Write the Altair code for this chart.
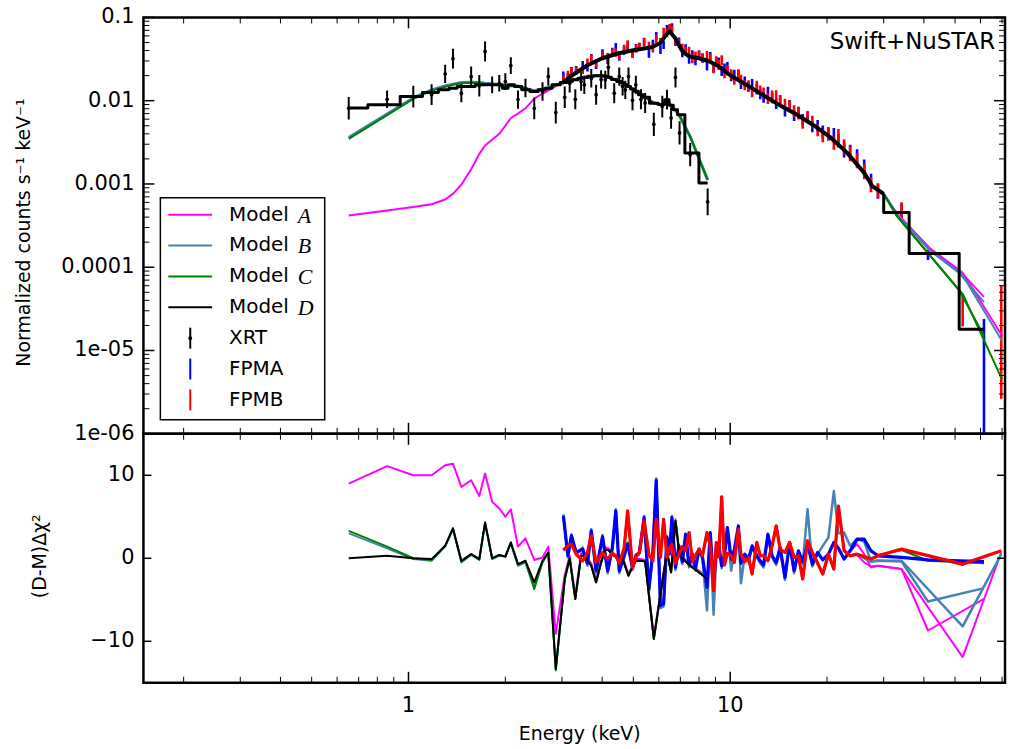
import altair as alt
import pandas as pd

# ===================== DATA =====================
# ---- Swift/XRT spectrum ----
XRT_E = [0.652, 0.858, 1.035, 1.18, 1.30, 1.375, 1.46, 1.566, 1.66, 1.73,
         1.82, 1.915, 2.00, 2.08, 2.19, 2.31, 2.46, 2.61, 2.72, 2.87,
         3.06, 3.17, 3.30, 3.44, 3.52, 3.70, 3.83, 3.97, 4.09, 4.18,
         4.36, 4.52, 4.63, 4.72, 4.83, 4.97, 5.09, 5.28, 5.44, 5.79,
         6.15, 6.36, 6.55, 6.76, 6.96, 7.51, 8.51]
XRT_V = [0.0081, 0.0104, 0.0112, 0.0118, 0.0210, 0.0320, 0.0123, 0.0195, 0.0151, 0.0390,
         0.0155, 0.0162, 0.0170, 0.0264, 0.0103, 0.0142, 0.0081, 0.0129, 0.0195, 0.0072,
         0.0110, 0.0162, 0.0104, 0.0170, 0.0155, 0.0186, 0.0118, 0.0180, 0.0178, 0.0252,
         0.0123, 0.0195, 0.0149, 0.0135, 0.0195, 0.0101, 0.0155, 0.0104, 0.0094, 0.0052,
         0.0085, 0.0103, 0.0062, 0.0190, 0.0041, 0.00225, 0.00061]
XRT_ERR = [0.135, 0.105, 0.13, 0.125, 0.11, 0.12, 0.11, 0.12, 0.13, 0.12,
           0.10, 0.10, 0.10, 0.10, 0.11, 0.11, 0.13, 0.11, 0.11, 0.13,
           0.13, 0.11, 0.12, 0.11, 0.11, 0.11, 0.12, 0.11, 0.11, 0.11,
           0.12, 0.11, 0.11, 0.11, 0.11, 0.12, 0.11, 0.12, 0.12, 0.14,
           0.13, 0.12, 0.13, 0.12, 0.14, 0.14, 0.16]
XRT_MD = [0.00815, 0.00893, 0.01125, 0.01256, 0.01349, 0.01415, 0.01483, 0.01483, 0.01549, 0.01549,
          0.01549, 0.01549, 0.01415, 0.01549, 0.01483, 0.01350, 0.01290, 0.01350, 0.01415, 0.01549,
          0.01650, 0.01700, 0.01780, 0.01860, 0.01900, 0.01960, 0.01990, 0.01990, 0.01960, 0.01910,
          0.01800, 0.01700, 0.01630, 0.01560, 0.01480, 0.01380, 0.01300, 0.01180, 0.01100, 0.00930,
          0.00900, 0.01030, 0.00880, 0.00780, 0.00680, 0.00236, 0.00103]
XRT_MODEL_HI = [0.0166, 0.0172, 0.0180, 0.0187, 0.0191, 0.0197, 0.0200, 0.0199, 0.0196, 0.0192,
                0.0181, 0.0171, 0.0163, 0.0157, 0.0149, 0.0139, 0.0131, 0.0119, 0.0110, 0.0094,
                0.0089, 0.0101, 0.0087, 0.0077, 0.0066, 0.0037, 0.00112]
XRT_MA_LO = [0.000417, 0.00048, 0.00053, 0.00057, 0.00065, 0.00076, 0.00098, 0.0015, 0.0023, 0.0029,
             0.0034, 0.0040, 0.0050, 0.0062, 0.0070, 0.0081, 0.0106, 0.0122, 0.0132, 0.0150]
XRT_MB_LO = [0.0036, 0.0069, 0.0108, 0.0135, 0.0150, 0.0158, 0.0165, 0.0167, 0.0165, 0.0162,
             0.0160, 0.0156, 0.0150, 0.0153, 0.0150, 0.0140, 0.0132, 0.0138, 0.0143, 0.0155]
XRT_MC_LO = [0.00348, 0.0067, 0.0105, 0.0132, 0.0147, 0.0155, 0.0162, 0.0164, 0.0162, 0.0159,
             0.0157, 0.0153, 0.0147, 0.0150, 0.0147, 0.0137, 0.0130, 0.0136, 0.0141, 0.0153]

# ---- NuSTAR spectra ----
NU_E = [3.03, 3.13, 3.21, 3.32, 3.48, 3.60, 3.70, 3.83, 4.01, 4.16,
        4.30, 4.41, 4.52, 4.68, 4.80, 4.97, 5.10, 5.22, 5.40, 5.59,
        5.75, 5.89, 6.07, 6.21, 6.36, 6.48, 6.59, 6.76, 6.93, 7.10,
        7.27, 7.45, 7.63, 7.80, 8.00, 8.20, 8.47, 8.67, 8.88, 9.05,
        9.21, 9.41, 9.60, 9.80, 10.07, 10.3, 10.6, 10.8, 11.1, 11.4,
        11.7, 12.1, 12.4, 12.7, 13.1, 13.5, 13.9, 14.3, 14.8, 15.3,
        15.8, 16.3, 16.8, 17.4, 18.0, 18.7, 19.4, 20.2, 21.0, 21.7,
        22.6, 23.6, 24.8, 26.1, 27.4, 28.8]
FPMA_E_HI = [34.1, 41.2, 61.5]
FPMB_E_HI = [34.1, 52.8, 69.6]

FPMA_V = [0.0200, 0.0192, 0.0227, 0.0232, 0.0267, 0.0251, 0.0325, 0.0270, 0.0369, 0.0309,
          0.0385, 0.0439, 0.0338, 0.0398, 0.0434, 0.0368, 0.0428, 0.0443, 0.0508, 0.0369,
          0.0481, 0.0595, 0.0409, 0.0467, 0.0724, 0.0725, 0.0756, 0.0510, 0.0512, 0.0373,
          0.0420, 0.0316, 0.0355, 0.0303, 0.0352, 0.0325, 0.0261, 0.0338, 0.0246, 0.0288,
          0.0287, 0.0227, 0.0243, 0.0254, 0.0196, 0.0205, 0.0207, 0.0159, 0.0170, 0.0147,
          0.0157, 0.0138, 0.0121, 0.0110, 0.0127, 0.0108, 0.0092, 0.0101, 0.0075, 0.0088,
          0.0067, 0.0072, 0.0059, 0.0063, 0.0049, 0.0050, 0.0042, 0.0040, 0.0039, 0.0033,
          0.00255, 0.0024, 0.00212, 0.00160, 0.00108, 0.00082,
          0.00046, 0.00014, 0.000003]
FPMA_ERR = [0.05, 0.05, 0.05, 0.05, 0.05, 0.05, 0.05, 0.05, 0.05, 0.05,
            0.05, 0.05, 0.05, 0.05, 0.05, 0.05, 0.05, 0.05, 0.05, 0.05,
            0.05, 0.05, 0.05, 0.05, 0.05, 0.05, 0.05, 0.05, 0.05, 0.05,
            0.055, 0.055, 0.055, 0.055, 0.055, 0.055, 0.055, 0.055, 0.055, 0.055,
            0.06, 0.06, 0.06, 0.06, 0.06, 0.06, 0.06, 0.06, 0.06, 0.06,
            0.065, 0.065, 0.065, 0.065, 0.065, 0.065, 0.065, 0.065, 0.065, 0.065,
            0.07, 0.07, 0.07, 0.07, 0.07, 0.07, 0.08, 0.08, 0.08, 0.08,
            0.09, 0.09, 0.09, 0.09, 0.09, 0.09,
            0.10, 0.06, 0.90]
FPMB_V = [0.0180, 0.0204, 0.0221, 0.0230, 0.0234, 0.0286, 0.0319, 0.0280, 0.0347, 0.0333,
          0.0376, 0.0377, 0.0349, 0.0418, 0.0473, 0.0368, 0.0422, 0.0443, 0.0503, 0.0454,
          0.0426, 0.0553, 0.0506, 0.0672, 0.0650, 0.0742, 0.0699, 0.0522, 0.0493, 0.0431,
          0.0394, 0.0392, 0.0319, 0.0343, 0.0352, 0.0327, 0.0348, 0.0323, 0.0242, 0.0302,
          0.0268, 0.0306, 0.0214, 0.0231, 0.0208, 0.0179, 0.0205, 0.0179, 0.0153, 0.0153,
          0.0128, 0.0149, 0.0131, 0.0124, 0.0106, 0.0114, 0.0115, 0.0100, 0.0091, 0.0088,
          0.0075, 0.0070, 0.0054, 0.0064, 0.0056, 0.0044, 0.0038, 0.0040, 0.0031, 0.0038,
          0.0028, 0.0023, 0.0019, 0.00140, 0.00098, 0.00083,
          0.00048, 0.000030, 0.0000126]
FPMB_ERR = [0.05, 0.05, 0.05, 0.05, 0.05, 0.05, 0.05, 0.05, 0.05, 0.05,
            0.05, 0.05, 0.05, 0.05, 0.05, 0.05, 0.05, 0.05, 0.05, 0.05,
            0.05, 0.05, 0.05, 0.05, 0.05, 0.05, 0.05, 0.05, 0.05, 0.05,
            0.055, 0.055, 0.055, 0.055, 0.055, 0.055, 0.055, 0.055, 0.055, 0.055,
            0.06, 0.06, 0.06, 0.06, 0.06, 0.06, 0.06, 0.06, 0.06, 0.06,
            0.065, 0.065, 0.065, 0.065, 0.065, 0.065, 0.065, 0.065, 0.065, 0.065,
            0.07, 0.07, 0.07, 0.07, 0.07, 0.07, 0.08, 0.08, 0.08, 0.08,
            0.09, 0.09, 0.09, 0.09, 0.09, 0.09,
            0.10, 0.19, 0.68]

# NuSTAR folded model curves
NU_ME = [3.0, 3.3, 3.6, 4.0, 4.5, 5.0, 5.7, 6.05, 6.3, 6.48, 6.75, 7.1, 7.45, 8.0,
         8.6, 9.2, 10.0, 11.4, 12.8, 14.4, 16.2, 18.3, 20.6, 23.1, 26.1, 27.6, 30.0]
NU_MD = [0.01626, 0.02138, 0.02666, 0.03234, 0.0371, 0.04027, 0.04376, 0.04887, 0.06095,
         0.06808, 0.05608, 0.03917, 0.03411, 0.03234, 0.02979, 0.02596, 0.02023, 0.01496,
         0.01135, 0.00861, 0.00673, 0.00497, 0.00357, 0.00236, 0.00136, 0.00095, 0.00076]
NU_STEP_E = [30.0, 30.0, 36.0, 51.5, 61.5]
NU_STEP_V = [0.00076, 0.000453, 0.000146, 0.000018, 0.000018]
TAIL_E_A = [33.0, 41.7, 51.6, 61.5]
TAIL_E_B = [33.0, 41.7, 52.8, 70.0]
MA_FPMA = [0.00044, 0.000165, 0.000091, 0.000044]
MB_FPMA = [0.00043, 0.000160, 0.000085, 0.000038]
MC_FPMA = [0.00041, 0.000140, 0.000052, 0.000015]
MA_FPMB = [0.00044, 0.000170, 0.000086, 0.000015]
MB_FPMB = [0.00043, 0.000160, 0.000080, 0.000013]
MC_FPMB = [0.00041, 0.000140, 0.000048, 0.0000045]

# ---- residuals, sign(D-M)*delta chi^2 ----
XRT_RD = [0.0, 0.3, 0.0, -0.1, 1.5, 3.6, -0.3, 0.5, -0.1, 4.3,
          0.0, 0.4, 0.2, 1.9, -0.7, -0.3, -2.9, -0.3, 0.7, -13.3,
          -2.5, 0.0, -4.9, 0.3, 0.3, -0.9, -2.9, -0.5, 1.0, 1.0,
          0.3, 0.0, 0.0, -1.0, -2.1, -1.0, -0.3, -0.3, -0.4, -9.7,
          -2.9, 0.7, -1.7, 4.5, 0.3, -0.9, -2.5]
XRT_RA = [9.0, 11.1, 10.0, 10.0, 11.2, 11.4, 8.6, 9.4, 7.5, 10.2,
          6.8, 6.0, 5.0, 5.9, 1.4, 2.4, -0.2, 0.1, 1.4, -9.1,
          -2.0, 0.3, -4.5, 0.6, 0.5, -0.6, -2.6, -0.2, 1.3, 1.2,
          0.5, 0.2, 0.2, -0.8, -1.9, -0.8, -0.1, -0.1, -0.2, -9.4,
          -2.7, 0.9, -1.5, 4.7, 0.5, -0.7, -2.3]
XRT_RB_LO = [3.0, 1.2, -0.1, -0.3, 1.4, 3.5, -0.5, 0.4, -0.2, 4.2,
             -0.1, 0.3, 0.2, 1.8, -0.9, -0.5, -3.5, -0.5, 0.6, -13.4]
XRT_RC_LO = [3.3, 1.4, 0.0, -0.2, 1.5, 3.6, -0.4, 0.5, -0.1, 4.3,
             0.0, 0.4, 0.2, 1.9, -0.8, -0.4, -3.7, -0.4, 0.7, -13.5]

FPMA_R = [5.1, 0.3, 2.7, 0.7, 1.1, -0.6, 3.3, -1.5, 2.6, -1.5,
          1.2, 5.7, -1.5, 0.3, 1.7, -1.1, 0.4, 0.7, 4.9, -3.7,
          0.8, 9.4, -5.7, -5.5, 2.5, 0.6, 4.9, -1.1, 1.5, -0.4,
          2.9, -0.8, 0.5, -1.2, 1.1, 0.2, -3.5, 3.1, -2.9, 0.6,
          1.7, -0.9, 0.4, 3.7, -0.1, 1.0, 3.9, -0.6, 0.5, -0.1,
          1.5, 0.3, -0.3, -0.8, 2.9, 0.3, -0.5, 1.3, -2.3, 1.9,
          -1.5, 0.9, -0.4, 1.7, -0.7, 0.7, -0.2, 0.5, 1.9, 1.2,
          -0.1, 0.9, 2.3, 2.3, 0.9, 0.3,
          0.1, -0.2, -0.4]
FPMB_R = [1.0, 1.5, 1.7, 0.5, -0.3, 0.7, 2.7, -0.5, 0.7, -0.1,
          0.6, 0.3, -0.6, 1.2, 5.7, -1.1, 0.2, 0.7, 4.5, 0.4,
          -0.3, 4.7, 0.1, 4.7, 0.1, 1.2, 1.7, -0.6, 0.5, 1.4,
          0.9, 3.1, -0.4, 0.3, 1.1, 0.3, 3.1, 1.5, -3.9, 1.9,
          0.2, 7.4, -0.8, 0.6, 0.3, -0.5, 3.5, 0.5, -0.4, 0.1,
          -1.9, 1.9, 0.3, 0.3, -0.3, 1.5, 3.9, 1.1, 0.7, 1.9,
          0.1, 0.3, -2.5, 2.1, 0.7, -0.6, -1.9, 0.5, -1.3, 6.3,
          0.9, 0.3, 0.5, 0.2, -0.1, 0.3,
          1.1, -0.7, 0.9]
RB_FPMA = [5.3, 0.1, 2.9, 0.5, 1.3, -0.9, 3.5, -1.8, 2.8, -1.8,
           1.0, 5.9, -1.8, 0.1, 1.9, -1.4, 0.2, 0.5, 5.1, -4.0,
           0.6, 9.6, -6.0, -5.8, 2.7, 0.4, 5.1, -1.4, 1.3, -0.7,
           2.7, -1.1, 0.3, -1.5, 0.9, -0.1, -6.3, 2.9, -6.8, 0.3,
           1.5, -1.2, 0.2, 3.5, -1.5, 0.8, 3.7, -3.0, 0.3, -0.4,
           1.3, 0.1, -0.6, -1.1, 2.7, 0.1, -0.8, 1.1, -2.6, 1.7,
           -1.8, 0.7, -0.7, 5.9, -1.0, 0.5, 1.5, 2.5, 8.1, 3.0,
           3.1, 1.5,
           2.3, 2.0, -0.4, -0.3, -0.4, -5.2, -3.6]
RA_FPMA_HI = [1.7, 0.5, -1.1, -0.9, -1.3, -8.7, -4.9]
RC_FPMA_HI = [2.3, 2.2, 0.8, 0.4, 1.0, -0.3, -0.6]
RA_FPMB_HI = [0.4, -0.5, -1.0, -0.9, -1.3, -11.9, 0.7]
RB_FPMB_HI = [0.5, 0.0, -0.4, -0.3, -0.3, -8.2, 0.5]
RC_FPMB_HI = [0.5, 0.2, 0.0, 0.3, 1.1, -0.8, 0.9]

# ---- axis ticks and tick labels ----
X_MAJOR = [1, 10]
X_LABELS = ["1", "10"]
X_MINOR = [0.2, 0.3, 0.4, 0.5, 0.6, 0.7, 0.8, 0.9, 2, 3, 4, 5, 6, 7, 8, 9,
           20, 30, 40, 50, 60, 70]
Y_MAJOR_TOP = [1e-6, 1e-5, 1e-4, 1e-3, 1e-2, 1e-1]
Y_LABELS_TOP = ["1e-06", "1e-05", "0.0001", "0.001", "0.01", "0.1"]
Y_MINOR_TOP = [m * d for d in [1e-6, 1e-5, 1e-4, 1e-3, 1e-2] for m in range(2, 10)]
Y_MAJOR_BOT = [-10, 0, 10]
Y_LABELS_BOT = ["\u221210", "0", "10"]

# ===================== STYLE / LAYOUT =====================
W, HT, HB = 865, 418, 250
FONT = "DejaVu Sans"
MAGENTA, STEEL, GREEN, BLACK, BLUE, RED = "#ff00ff", "#4682b4", "#008000", "#000000", "#0000ff", "#ff0000"
XS = alt.Scale(type="log", domain=[0.15, 71.5], nice=False)
YT = alt.Scale(type="log", domain=[1e-6, 0.1], nice=False)
YB = alt.Scale(domain=[-15, 15], nice=False)
ONE = pd.DataFrame({"k": [0]})
TICKFS = 21


def frame(E, V):
    n = min(len(E), len(V))
    return pd.DataFrame({"E": list(E)[:n], "V": list(V)[:n], "i": list(range(n))})


def line(E, V, color, width, yscale, interp="linear"):
    df = frame(E, V)
    return alt.Chart(df).mark_line(color=color, strokeWidth=width, interpolate=interp,
                                   clip=True, strokeJoin="round").encode(
        x=alt.X("E:Q", scale=XS, axis=None),
        y=alt.Y("V:Q", scale=yscale, axis=None),
        order=alt.Order("i:Q"))


def errbars(E, V, ERR, color, width):
    n = min(len(E), len(V), len(ERR))
    df = pd.DataFrame({"E": E[:n], "V": V[:n], "ERR": ERR[:n]})
    df["lo"] = df["V"] / 10 ** df["ERR"]
    df["hi"] = df["V"] * 10 ** df["ERR"]
    return alt.Chart(df).mark_rule(color=color, strokeWidth=width, clip=True).encode(
        x=alt.X("E:Q", scale=XS, axis=None),
        y=alt.Y("lo:Q", scale=YT, axis=None),
        y2="hi:Q")


def xticks(vals, y0, y1, width):
    df = pd.DataFrame({"E": vals})
    return alt.Chart(df).mark_rule(color="black", strokeWidth=width).encode(
        x=alt.X("E:Q", scale=XS, axis=None), y=alt.value(y0), y2=alt.value(y1))


def yticks(vals, yscale, x0, x1, width):
    df = pd.DataFrame({"V": vals})
    return alt.Chart(df).mark_rule(color="black", strokeWidth=width).encode(
        y=alt.Y("V:Q", scale=yscale, axis=None), x=alt.value(x0), x2=alt.value(x1))


def ylabels(vals, labels, yscale):
    df = pd.DataFrame({"V": vals, "t": labels})
    return alt.Chart(df).mark_text(align="right", baseline="middle", font=FONT,
                                   fontSize=TICKFS, color="black").encode(
        y=alt.Y("V:Q", scale=yscale, axis=None), x=alt.value(-9), text="t:N")


def xlabels(vals, labels, y):
    df = pd.DataFrame({"E": vals, "t": labels})
    return alt.Chart(df).mark_text(align="center", baseline="middle", font=FONT,
                                   fontSize=TICKFS, color="black").encode(
        x=alt.X("E:Q", scale=XS, axis=None), y=alt.value(y), text="t:N")


def vtext(txt, x, y, size, font=FONT, style="normal", align="left", angle=0):
    return alt.Chart(ONE).mark_text(text=txt, align=align, baseline="middle", font=font,
                                    fontSize=size, fontStyle=style, color="black",
                                    angle=angle).encode(x=alt.value(x), y=alt.value(y))


def vrule(color, width, x, y, x2=None, y2=None):
    enc = {"x": alt.value(x), "y": alt.value(y)}
    if x2 is not None:
        enc["x2"] = alt.value(x2)
    if y2 is not None:
        enc["y2"] = alt.value(y2)
    return alt.Chart(ONE).mark_rule(color=color, strokeWidth=width).encode(**enc)


MAJ, MIN = 11, 6

# ===================== TOP PANEL =====================
top_layers = [
    errbars(NU_E + FPMA_E_HI, FPMA_V, FPMA_ERR, BLUE, 2.6),
    errbars(NU_E + FPMB_E_HI, FPMB_V, FPMB_ERR, RED, 2.6),
    # NuSTAR models
    line(NU_ME + TAIL_E_A, NU_MD + MA_FPMA, MAGENTA, 2, YT),
    line(NU_ME + TAIL_E_B, NU_MD + MA_FPMB, MAGENTA, 2, YT),
    line(NU_ME + TAIL_E_A, NU_MD + MB_FPMA, STEEL, 2, YT),
    line(NU_ME + TAIL_E_B, NU_MD + MB_FPMB, STEEL, 2, YT),
    line(NU_ME + TAIL_E_A, NU_MD + MC_FPMA, GREEN, 2, YT),
    line(NU_ME + TAIL_E_B, NU_MD + MC_FPMB, GREEN, 2, YT),
    line(NU_ME, NU_MD, BLACK, 4, YT),
    line(NU_STEP_E, NU_STEP_V, BLACK, 3, YT, interp="step-after"),
    # XRT models
    line(XRT_E, XRT_MA_LO + XRT_MODEL_HI, MAGENTA, 2, YT),
    line(XRT_E, XRT_MB_LO + XRT_MODEL_HI, STEEL, 3, YT),
    line(XRT_E, XRT_MC_LO + XRT_MODEL_HI, GREEN, 2, YT),
    line(XRT_E, XRT_MD, BLACK, 3, YT, interp="step"),
    # XRT data
    errbars(XRT_E, XRT_V, XRT_ERR, BLACK, 2),
    alt.Chart(frame(XRT_E, XRT_V)).mark_circle(color="black", size=14, opacity=1).encode(
        x=alt.X("E:Q", scale=XS, axis=None), y=alt.Y("V:Q", scale=YT, axis=None)),
    # ticks
    xticks(X_MAJOR, 0, MAJ, 1.5), xticks(X_MINOR, 0, MIN, 1),
    xticks(X_MAJOR, HT - MAJ, HT, 1.5), xticks(X_MINOR, HT - MIN, HT, 1),
    yticks(Y_MAJOR_TOP, YT, 0, MAJ, 1.5), yticks(Y_MINOR_TOP, YT, 0, MIN, 1),
    yticks(Y_MAJOR_TOP, YT, W - MAJ, W, 1.5), yticks(Y_MINOR_TOP, YT, W - MIN, W, 1),
    ylabels(Y_MAJOR_TOP, Y_LABELS_TOP, YT),
    # annotation and axis title
    vtext("Swift+NuSTAR", 855, 25, 23, align="right"),
    vtext("Normalized counts s\u207b\u00b9 keV\u207b\u00b9", -120, 216, 19, align="center", angle=270),
]

# legend (drawn by hand so that the math-italic letters can be reproduced)
LEG_X0, LEG_X1, LEG_Y0, LEG_Y1 = 17, 182, 181, 404
LEG_ROWS = [198, 229, 260, 291, 322, 353, 384]
legend_layers = [
    alt.Chart(ONE).mark_rect(fill="white", stroke="black", strokeWidth=1.5).encode(
        x=alt.value(LEG_X0), x2=alt.value(LEG_X1), y=alt.value(LEG_Y0), y2=alt.value(LEG_Y1)),
]
for row, (col, letter) in enumerate([(MAGENTA, "A"), (STEEL, "B"), (GREEN, "C"), (BLACK, "D")]):
    yy = LEG_ROWS[row]
    legend_layers += [
        vrule(col, 2, 25, yy, x2=69),
        vtext("Model", 86, yy, 20),
        vtext(letter, 155, yy + 1, 22, font="Liberation Serif", style="italic"),
    ]
for row, (col, name) in enumerate([(BLACK, "XRT"), (BLUE, "FPMA"), (RED, "FPMB")], start=4):
    yy = LEG_ROWS[row]
    legend_layers += [vrule(col, 2, 47, yy - 10.5, y2=yy + 10.5), vtext(name, 86, yy, 20)]
    if name == "XRT":
        legend_layers.append(alt.Chart(ONE).mark_circle(color="black", size=14, opacity=1).encode(
            x=alt.value(47), y=alt.value(yy)))

# invisible anchors that fix the outer margins of the figure
anchors_top = [
    vrule("white", 1, -141.5, 0, y2=2),
    vrule("white", 1, 0, -13.5, x2=2),
    vrule("white", 1, W + 3.5, 0, y2=2),
]

top = alt.layer(*(top_layers + legend_layers + anchors_top)).properties(width=W, height=HT)

# ===================== BOTTOM PANEL =====================
FPMA_E = NU_E + FPMA_E_HI
FPMB_E = NU_E + FPMB_E_HI
bot_layers = [
    line(XRT_E, XRT_RA, MAGENTA, 2, YB),
    line(XRT_E, XRT_RB_LO + XRT_RD[20:], STEEL, 2, YB),
    line(XRT_E, XRT_RC_LO + XRT_RD[20:], GREEN, 2, YB),
    line(FPMA_E, FPMA_R[:72] + RA_FPMA_HI, MAGENTA, 2, YB),
    line(FPMB_E, FPMB_R[:72] + RA_FPMB_HI, MAGENTA, 2, YB),
    line(FPMA_E, RB_FPMA, STEEL, 2.5, YB),
    line(FPMB_E, FPMB_R[:72] + RB_FPMB_HI, STEEL, 2.5, YB),
    line(FPMA_E, FPMA_R[:72] + RC_FPMA_HI, GREEN, 2, YB),
    line(FPMB_E, FPMB_R[:72] + RC_FPMB_HI, GREEN, 2, YB),
    line(FPMA_E, FPMA_R, BLUE, 3.2, YB),
    line(XRT_E, XRT_RD, BLACK, 2, YB),
    line(FPMB_E, FPMB_R, RED, 3.2, YB),
    xticks(X_MAJOR, 0, MAJ, 1.5), xticks(X_MINOR, 0, MIN, 1),
    xticks(X_MAJOR, HB - MAJ, HB, 1.5), xticks(X_MINOR, HB - MIN, HB, 1),
    yticks(Y_MAJOR_BOT, YB, 0, 8, 1.5), yticks(Y_MAJOR_BOT, YB, W - 8, W, 1.5),
    ylabels(Y_MAJOR_BOT, Y_LABELS_BOT, YB),
    xlabels(X_MAJOR, X_LABELS, HB + 23),
    vtext("(D-M)\u0394\u03c7\u00b2", -104, 123, 19, align="center", angle=270),
    vtext("Energy (keV)", 438, 301, 19, align="center"),
    vrule("white", 1, 0, HB + 66.5, x2=2),
]
bottom = alt.layer(*bot_layers).properties(width=W, height=HB)

chart = alt.vconcat(top, bottom, spacing=0, bounds="flush").properties(
    padding=0, background="white"
).configure_view(stroke="black", strokeWidth=2.5)

chart.save("out.html", embed_options={"renderer": "svg", "actions": False})
